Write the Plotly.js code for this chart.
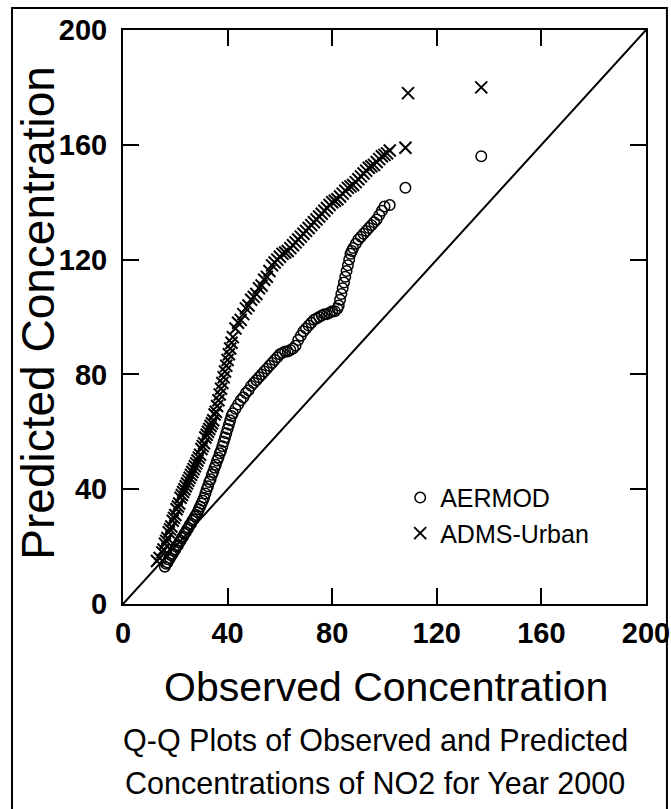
<!DOCTYPE html>
<html>
<head>
<meta charset="utf-8">
<script src="https://cdn.plot.ly/plotly-3.0.1.min.js"></script>
<style>html,body{margin:0;padding:0;background:#fff;}</style>
</head>
<body>
<div id="chart" style="width:671px;height:809px;"></div>
<script>
// ---- data ----
var tickVals = [0, 40, 80, 120, 160, 200];
var tickText = ["0", "40", "80", "120", "160", "200"];

var aermodObs = [16, 16.5, 17, 17.5, 18, 18.5, 19, 19.5, 20, 20.5, 21, 21.5, 22, 22.5, 23, 23.5, 24, 24.5, 25, 25.5,
  26, 26.5, 27, 27.5, 28, 28.5, 29, 29.5, 30, 30.5, 31, 31.5, 32, 32.5, 33, 33.5, 34, 34.5, 35, 35.5,
  36, 36.5, 37, 37.5, 38, 38.5, 39, 39.5, 40, 40.5, 41, 41.5, 42,
  43, 44, 45, 46, 47, 48, 49, 50, 51, 52, 53, 54, 55, 56, 57, 58, 59, 60, 61, 62,
  63, 64, 65, 66, 67, 68, 69, 70, 71, 72, 73, 74, 75, 76, 77, 78, 79, 80, 81, 82,
  82.5, 83, 83.5, 84, 84.5, 85, 85.5, 86, 86.5, 87, 87.5, 88,
  89, 90, 91, 92, 93, 94, 95, 96, 97, 98, 99, 100, 102, 108, 137];
var aermodPred = [13, 14, 14.5, 15.5, 16, 17, 17.5, 18.5, 19, 20, 20.5, 21.5, 22, 23, 23.5, 24.5, 25, 26, 26.5, 27.5,
  28, 29, 29.5, 30.5, 31, 32, 33, 34, 35, 36, 37, 38.5, 40, 41, 42.5, 43.5, 45, 46, 47.5, 48.5,
  50, 51, 52.5, 53.5, 55, 56.5, 58, 59.5, 61, 62.5, 64, 65.5, 66.5,
  68, 69.5, 71, 72, 73.5, 74.5, 76, 77, 78, 79, 80, 81, 82, 83, 84, 85, 86, 87, 87.5, 88,
  88, 88.5, 89, 90, 92, 93.5, 95, 96, 97, 98, 99, 99.5, 100, 100.5, 101, 101, 101.5, 102, 102, 103,
  104, 106, 108, 110, 112, 114, 116, 118, 120, 122, 123, 124,
  125.5, 127, 128, 129, 130, 131, 132, 133, 134, 135.5, 137, 138.5, 139, 145, 156];

var admsObs = [13, 14, 15, 15.5, 16, 16.5, 17, 17.5, 18, 18.5, 19, 19.5, 20, 20.5, 21, 21.5, 22, 22.5, 23, 23.5,
  24, 24.5, 25, 25.5, 26, 26.5, 27, 27.5, 28, 28.5, 29, 29.5, 30, 30.5, 31, 31.5, 32, 32.5, 33, 33.5,
  34, 34.5, 35, 35.5, 36, 36.5, 37, 37.5, 38, 38.5, 39, 39.5, 40, 40.5, 41, 41.5, 42,
  43, 44, 45, 46, 47, 48, 49, 50, 51, 52, 53, 54, 55, 56, 57, 58, 59, 60, 61, 62,
  63, 64, 65, 66, 67, 68, 69, 70, 71, 72, 73, 74, 75, 76, 77, 78, 79, 80, 81, 82,
  83, 84, 85, 86, 87, 88, 89, 90, 91, 92, 93, 94, 95, 96, 97, 98, 99, 100, 101, 102,
  108, 109, 137];
var admsPred = [15, 16, 18, 19, 21, 22, 23, 25, 26, 27, 29, 30, 31, 33, 34, 35, 37, 38, 39, 40,
  41, 42, 43, 44, 45, 46, 47, 48, 49, 50, 51, 52, 54, 55, 56, 58, 59, 60, 61, 62,
  63, 64, 66, 67, 69, 71, 73, 75, 77, 79, 81, 83, 85, 87, 89, 91, 93,
  96, 98, 99, 101, 103, 104, 106, 107, 108, 110, 111, 113, 114, 116, 118, 119, 120, 121, 122, 122.5,
  123, 124, 125, 126, 127, 128, 129, 130, 131, 132, 133, 134, 135, 136, 137, 138, 139, 140, 140.5, 141,
  142, 143, 144, 145, 145.5, 146, 147, 148, 149, 150, 151, 152, 152.5, 153, 154, 155, 156, 156.5, 157, 158,
  159, 178, 180];

var refLineX = [0, 200];
var refLineY = [0, 200];

var seriesNames = ["AERMOD", "ADMS-Urban"];
var xTitle = "Observed Concentration";
var yTitle = "Predicted Concentration";
var caption1 = "Q-Q Plots of Observed and Predicted";
var caption2 = "Concentrations of NO2 for Year 2000";

// ---- styling ----
var sans = "'Liberation Sans', Arial, sans-serif";

var traces = [
  {x: refLineX, y: refLineY, mode: "lines", line: {color: "#000", width: 2}, showlegend: false, hoverinfo: "skip"},
  {x: aermodObs, y: aermodPred, mode: "markers", name: seriesNames[0],
   marker: {symbol: "circle-open", size: 10.5, color: "#000", line: {color: "#000", width: 1.5}}},
  {x: admsObs, y: admsPred, mode: "markers", name: seriesNames[1],
   marker: {symbol: "x-thin-open", size: 12, color: "#000", line: {color: "#000", width: 2}}}
];

var axisCommon = {
  range: [0, 200], autorange: false, showgrid: false, zeroline: false,
  showline: true, linecolor: "#000", linewidth: 2, mirror: "ticks",
  ticks: "inside", ticklen: 16, tickwidth: 2, tickcolor: "#000",
  tickmode: "array", tickvals: tickVals, ticktext: tickText,
  ticklabeloverflow: "allow",
  tickfont: {family: sans, size: 29, color: "#000", weight: "bold"}
};

var layout = {
  width: 671, height: 809,
  margin: {l: 123, r: 25, t: 30, b: 205},
  paper_bgcolor: "#fff", plot_bgcolor: "#fff",
  xaxis: Object.assign({}, axisCommon, {ticklabelstandoff: 2}),
  yaxis: Object.assign({}, axisCommon, {ticklabelstandoff: 8}),
  showlegend: true,
  legend: {x: 0.53, y: 0.225, xanchor: "left", yanchor: "top", bgcolor: "rgba(0,0,0,0)",
           font: {family: sans, size: 25, color: "#000"}, tracegroupgap: 0},
  annotations: [
    {xref: "paper", yref: "paper", x: -0.162, y: 0.508, text: yTitle, textangle: -90, showarrow: false,
     xanchor: "center", yanchor: "middle", font: {family: sans, size: 46, color: "#000"}},
    {xref: "paper", yref: "paper", x: 0.503, y: -0.145, text: xTitle, showarrow: false,
     xanchor: "center", yanchor: "middle", font: {family: sans, size: 41, color: "#000"}},
    {xref: "paper", yref: "paper", x: 0.482, y: -0.237, text: caption1, showarrow: false,
     xanchor: "center", yanchor: "middle", font: {family: sans, size: 30.5, color: "#000"}},
    {xref: "paper", yref: "paper", x: 0.482, y: -0.312, text: caption2, showarrow: false,
     xanchor: "center", yanchor: "middle", font: {family: sans, size: 30.5, color: "#000"}}
  ],
  shapes: [
    {type: "rect", xref: "paper", yref: "paper", x0: -0.2122, x1: 1.04, y0: -0.38, y1: 1.0383,
     line: {color: "#000", width: 2}, fillcolor: "rgba(0,0,0,0)", layer: "above"}
  ]
};

Plotly.newPlot("chart", traces, layout, {displayModeBar: false, staticPlot: true});
</script>
</body>
</html>
